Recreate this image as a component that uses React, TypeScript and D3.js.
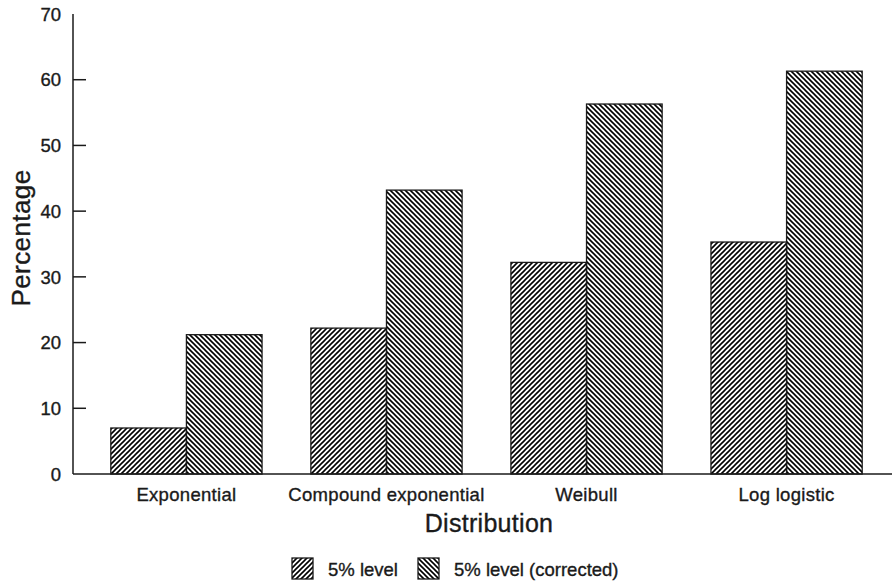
import React from "react";
import * as d3 from "d3";

const categories = ["Exponential", "Compound exponential", "Weibull", "Log logistic"];
const seriesNames = ["5% level", "5% level (corrected)"];
const level5 = [7.0, 22.2, 32.2, 35.3];
const level5Corrected = [21.2, 43.2, 56.3, 61.3];
const yTicks = [0, 10, 20, 30, 40, 50, 60, 70];

const W = 892;
const H = 583;
const FONT = "'Liberation Sans', Arial, Helvetica, sans-serif";
const INK = "#1a1a1a";
const textStyle = { fontFamily: FONT, fill: INK, stroke: INK, strokeWidth: 0.35 } as const;

export default function App() {
  const x = d3
    .scaleBand<string>()
    .domain(categories)
    .range([81, 892])
    .paddingInner(0.244)
    .paddingOuter(0.149);
  const xSub = d3.scaleBand<number>().domain([0, 1]).range([0, x.bandwidth()]);
  const y = d3.scaleLinear().domain([0, 70]).range([474, 14]);
  const series = [level5, level5Corrected];
  const patterns = ["hatchUp", "hatchDown"];

  return (
    <svg width={W} height={H} style={{ position: "absolute", left: 0, top: 0, background: "#fff" }}>
      <defs>
        <pattern id="hatchUp" width="5" height="5" patternUnits="userSpaceOnUse">
          <path d="M-1,1 L1,-1 M0,5 L5,0 M4,6 L6,4" stroke="#000" strokeWidth="1.6" />
        </pattern>
        <pattern id="hatchDown" width="5" height="5" patternUnits="userSpaceOnUse">
          <path d="M-1,4 L1,6 M0,0 L5,5 M4,-1 L6,1" stroke="#000" strokeWidth="1.6" />
        </pattern>
      </defs>
      <rect x={0} y={0} width={W} height={H} fill="#fff" />

      {/* bars */}
      {categories.map((c, i) =>
        series.map((s, j) => (
          <rect
            key={c + j}
            x={(x(c) as number) + (xSub(j) as number)}
            y={y(s[i])}
            width={xSub.bandwidth()}
            height={y(0) - y(s[i])}
            fill={`url(#${patterns[j]})`}
            stroke={INK}
            strokeWidth={1.3}
          />
        ))
      )}

      {/* axes */}
      <line x1={73} x2={73} y1={y(70)} y2={y(0)} stroke={INK} strokeWidth={1.5} />
      <line x1={73} x2={892} y1={y(0)} y2={y(0)} stroke={INK} strokeWidth={1.5} />
      {yTicks.map((t) => (
        <g key={t}>
          {t > 0 && t < 70 && (
            <line x1={73} x2={86} y1={y(t)} y2={y(t)} stroke={INK} strokeWidth={1.5} />
          )}
          <text x={61} y={y(t)} dy="0.36em" textAnchor="end" fontSize={18.5} {...textStyle}>
            {t}
          </text>
        </g>
      ))}
      <text
        transform={`translate(30,238) rotate(-90)`}
        textAnchor="middle"
        fontSize={26}
        letterSpacing={0.4}
        {...textStyle}
      >
        Percentage
      </text>

      {/* x labels */}
      {categories.map((c) => (
        <text
          key={c}
          x={(x(c) as number) + x.bandwidth() / 2}
          y={501}
          textAnchor="middle"
          fontSize={18.5}
          letterSpacing={0.3}
          {...textStyle}
        >
          {c}
        </text>
      ))}
      <text x={489} y={532} textAnchor="middle" fontSize={25} letterSpacing={0.3} {...textStyle}>
        Distribution
      </text>

      {/* legend */}
      {seriesNames.map((n, j) => {
        const lx = j === 0 ? 292 : 418;
        return (
          <g key={n}>
            <rect
              x={lx}
              y={558}
              width={21}
              height={21}
              fill={`url(#${patterns[j]})`}
              stroke={INK}
              strokeWidth={1.3}
            />
            <text x={lx + 36} y={576} fontSize={18.5} {...textStyle}>
              {n}
            </text>
          </g>
        );
      })}
    </svg>
  );
}
